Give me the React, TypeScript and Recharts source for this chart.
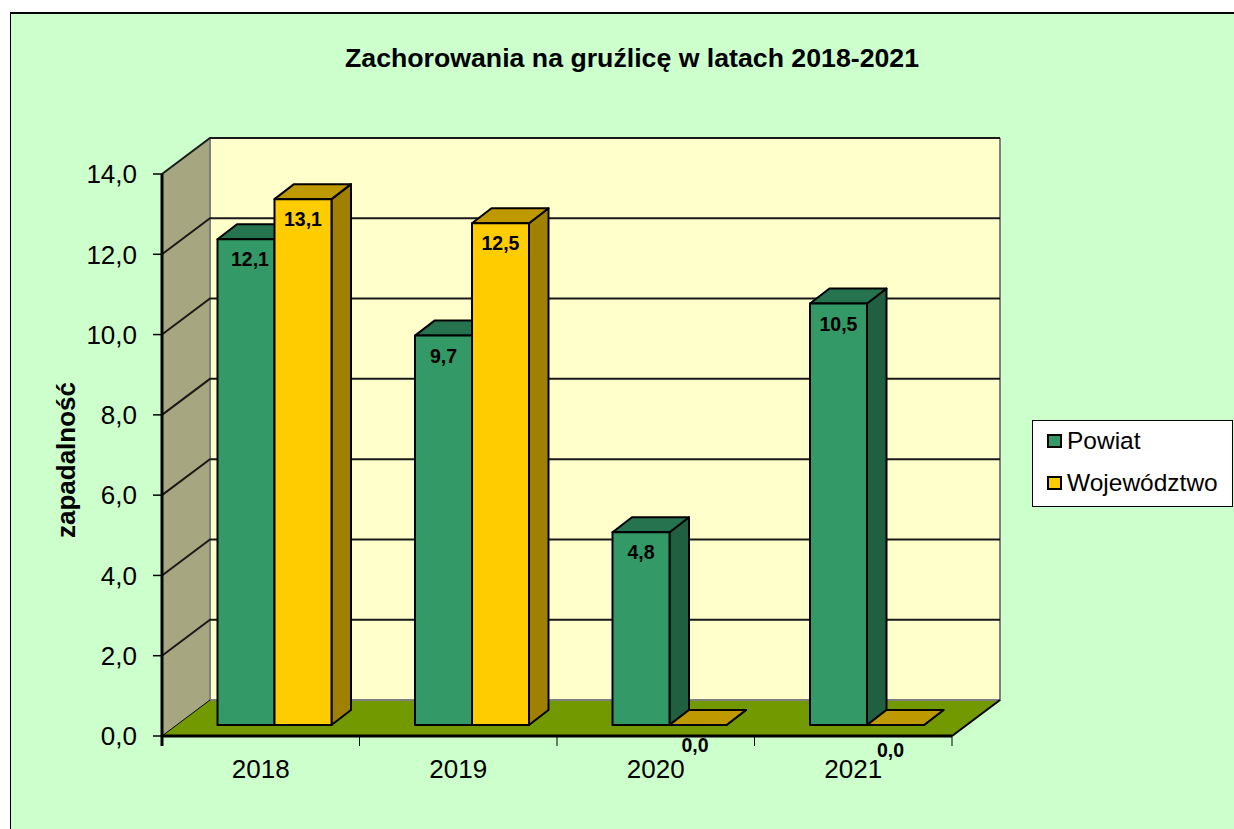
import { Bar, BarChart, Label, LabelList, Legend, XAxis, YAxis, usePlotArea } from "recharts";

const years = ["2018", "2019", "2020", "2021"];
const powiat = [12.1, 9.7, 4.8, 10.5];
const wojewodztwo = [13.1, 12.5, 0, 0];
const yTicks = [0, 2, 4, 6, 8, 10, 12, 14];

const data = years.map((year, i) => ({ year, powiat: powiat[i], wojewodztwo: wojewodztwo[i] }));

const FONT = "'Liberation Sans', Arial, sans-serif";

// depth of the fake 3D box, and how far the bars stand in from its front edge
const WALL_DX = 48;
const WALL_DY = -36;
const BAR_DX = 13.5;
const BAR_DY = -11;
const BAR_DEPTH_X = 19.5;
const BAR_DEPTH_Y = -15;

const fmt = (v: number) => v.toFixed(1).replace(".", ",");

const Walls = () => {
    const plot = usePlotArea();
    if (!plot) return null;
    const { x, y, width, height } = plot;
    const bottom = y + height;
    const right = x + width;
    const yOf = (v: number) => bottom - (v / 14) * height;
    return (
        <g>
            <polygon points={`${x + WALL_DX},${y + WALL_DY} ${right + WALL_DX},${y + WALL_DY} ${right + WALL_DX},${bottom + WALL_DY} ${x + WALL_DX},${bottom + WALL_DY}`} fill="#FFFFCC" />
            <polygon points={`${x},${y} ${x + WALL_DX},${y + WALL_DY} ${x + WALL_DX},${bottom + WALL_DY} ${x},${bottom}`} fill="#A6A680" />
            <polygon points={`${x},${bottom} ${x + WALL_DX},${bottom + WALL_DY} ${right + WALL_DX},${bottom + WALL_DY} ${right},${bottom}`} fill="#739900" />
            <path d={`M${x + WALL_DX},${y + WALL_DY} V${bottom + WALL_DY} H${right + WALL_DX} V${y + WALL_DY}`} fill="none" stroke="#808080" strokeWidth={2} />
            {yTicks.slice(1).map((t) => (
                <path
                    key={t}
                    d={`M${x},${yOf(t)} L${x + WALL_DX},${yOf(t) + WALL_DY} H${right + WALL_DX}`}
                    fill="none"
                    stroke="#1a1a1a"
                    strokeWidth={2}
                />
            ))}
            <line x1={right} y1={bottom} x2={right + WALL_DX} y2={bottom + WALL_DY} stroke="#000" strokeWidth={2} />
            <line x1={x} y1={bottom} x2={x + WALL_DX} y2={bottom + WALL_DY} stroke="#000" strokeWidth={1} />
            {years.map((_, i) => (
                <line key={i} x1={x + ((i + 1) * width) / years.length} y1={bottom} x2={x + ((i + 1) * width) / years.length} y2={bottom + 10} stroke="#000" strokeWidth={1} />
            ))}
            <line x1={x} y1={bottom} x2={x} y2={bottom + 10} stroke="#000" strokeWidth={3} />
        </g>
    );
};

const Bar3D = (fill: string, top: string, side: string) => (props: any) => {
    const { x, y, width, height } = props;
    const fx = x + BAR_DX;
    const fy = y + BAR_DY;
    const fb = fy + height;
    const fr = fx + width;
    return (
        <g stroke="#000" strokeWidth={2} strokeLinejoin="round">
            <polygon points={`${fr},${fy} ${fr + BAR_DEPTH_X},${fy + BAR_DEPTH_Y} ${fr + BAR_DEPTH_X},${fb + BAR_DEPTH_Y} ${fr},${fb}`} fill={side} />
            <polygon points={`${fx},${fy} ${fx + BAR_DEPTH_X},${fy + BAR_DEPTH_Y} ${fr + BAR_DEPTH_X},${fy + BAR_DEPTH_Y} ${fr},${fy}`} fill={top} />
            <rect x={fx} y={fy} width={width} height={height} fill={fill} />
        </g>
    );
};

// the reference shifts a few labels to keep them off their neighbours
const labelNudge: Record<string, [number, number]> = {
    "12,1": [4, 0],
    "0,0-2": [-3, 0],
    "0,0-3": [-5, 5],
};

const BarLabel = (props: any) => {
    const { x, y, width, value, index } = props;
    const text = fmt(value);
    const nudge = labelNudge[text] || labelNudge[`${text}-${index}`] || [0, 0];
    return (
        <text
            x={x + BAR_DX + width / 2 + nudge[0]}
            y={y + BAR_DY + 20 + nudge[1]}
            textAnchor="middle"
            dominantBaseline="central"
            fontFamily={FONT}
            fontWeight="bold"
            fontSize={19.5}
            fill="#000"
        >
            {text}
        </text>
    );
};

const LegendBox = ({ payload }: any) => (
    <div style={{ width: 199, height: 85, border: "1.5px solid #000", background: "#fff", position: "relative", fontFamily: FONT, fontSize: 24.5, color: "#000" }}>
        {(payload || []).map((p: any, i: number) => (
            <div key={p.value} style={{ position: "absolute", left: 14, top: 5 + i * 42, height: 30, display: "flex", alignItems: "center", whiteSpace: "nowrap" }}>
                <span style={{ width: 11, height: 10, border: "2px solid #000", background: p.color, marginRight: 5 }} />
                {p.value}
            </div>
        ))}
    </div>
);

export default function App() {
    return (
        <div style={{ position: "absolute", left: 0, top: 0, width: 1234, height: 829, background: "#fff", overflow: "hidden" }}>
            <div style={{ position: "absolute", left: 10, top: 12, right: 0, bottom: 0, background: "#CCFFCC", borderLeft: "1px solid #000", borderTop: "2px solid #000" }} />
            <div style={{ position: "absolute", left: 0, top: 0 }}>
                <BarChart
                    width={1234}
                    height={829}
                    data={data}
                    margin={{ top: 174, right: 282, bottom: 0, left: 0 }}
                    barSize={57}
                    barGap={0}
                >
                    <Walls />
                    <XAxis
                        dataKey="year"
                        height={93}
                        tickLine={false}
                        axisLine={{ stroke: "#000", strokeWidth: 3 }}
                        tickMargin={18}
                        tick={{ fontFamily: FONT, fontSize: 26, fill: "#000" }}
                    />
                    <YAxis
                        width={162}
                        domain={[0, 14]}
                        ticks={yTicks}
                        interval={0}
                        tickFormatter={fmt}
                        tickSize={9}
                        tickMargin={16}
                        axisLine={{ stroke: "#000", strokeWidth: 3 }}
                        tickLine={{ stroke: "#000", strokeWidth: 1.5 }}
                        tick={{ fontFamily: FONT, fontSize: 26, fill: "#000" }}
                    >
                        <Label
                            value="zapadalność"
                            angle={-90}
                            position="insideLeft"
                            offset={66}
                            dy={5}
                            style={{ fontFamily: FONT, fontWeight: "bold", fontSize: 26, fill: "#000", textAnchor: "middle" }}
                        />
                    </YAxis>
                    <Bar dataKey="powiat" name="Powiat" fill="#339966" isAnimationActive={false} shape={Bar3D("#339966", "#267350", "#206040")}>
                        <LabelList dataKey="powiat" content={BarLabel} />
                    </Bar>
                    <Bar dataKey="wojewodztwo" name="Województwo" fill="#FFCC00" isAnimationActive={false} shape={Bar3D("#FFCC00", "#BF9900", "#9F8000")}>
                        <LabelList dataKey="wojewodztwo" content={BarLabel} />
                    </Bar>
                    <Legend
                        layout="horizontal"
                        verticalAlign="middle"
                        align="center"
                        content={LegendBox}
                        wrapperStyle={{ position: "absolute", left: 1032, top: 420, width: 202, height: 88 }}
                    />
                    <text x={632} y={58} textAnchor="middle" dominantBaseline="central" fontFamily={FONT} fontWeight="bold" fontSize={26.7} fill="#000">
                        Zachorowania na gruźlicę w latach 2018-2021
                    </text>
                </BarChart>
            </div>
        </div>
    );
}
